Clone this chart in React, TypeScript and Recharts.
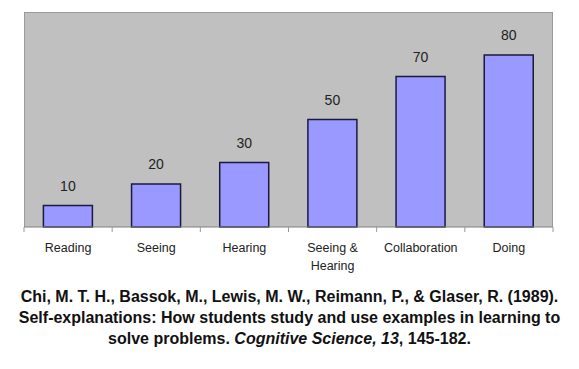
import React from 'react';
import { BarChart, Bar, XAxis, YAxis, CartesianGrid, LabelList } from 'recharts';

const categories = ['Reading', 'Seeing', 'Hearing', 'Seeing & Hearing', 'Collaboration', 'Doing'];
const retention = [10, 20, 30, 50, 70, 80];

const tickLines: Record<string, string[]> = {
    'Seeing & Hearing': ['Seeing &', 'Hearing']
};

const data = categories.map((name, i) => ({ name, value: retention[i] }));

const FONT = '"Liberation Sans", Arial, sans-serif';

const CategoryTick = (props: any) => {
    const { x, y, payload, index } = props;
    const half = payload.offset || 44;
    const lines = tickLines[payload.value] || [payload.value];
    return (
        <g>
            <line x1={x - half} y1={y - 8} x2={x - half} y2={y - 3} stroke="#999" />
            {index === categories.length - 1 && (
                <line x1={x + half} y1={y - 8} x2={x + half} y2={y - 3} stroke="#999" />
            )}
            <text x={x} y={y + 17} textAnchor="middle" fontSize={12.5} fill="#222" fontFamily={FONT}>
                {lines.map((l, i) => (
                    <tspan key={i} x={x} dy={i === 0 ? 0 : 18}>{l}</tspan>
                ))}
            </text>
        </g>
    );
};

export default function App() {
    return (
        <div style={{ position: 'absolute', left: 0, top: 0, width: 579, height: 369, background: '#fff' }}>
            <BarChart
                width={579}
                height={280}
                data={data}
                margin={{ top: 12, right: 26, left: 24, bottom: 0 }}
                barCategoryGap="22%"
            >
                {/* plot background with a thin gray frame on top, left and right */}
                <CartesianGrid
                    fill="#C0C0C0"
                    stroke="#9a9a9a"
                    horizontalPoints={[12.5]}
                    verticalPoints={[24.5, 552.5]}
                />
                <XAxis
                    dataKey="name"
                    interval={0}
                    tickLine={false}
                    axisLine={{ stroke: '#808080' }}
                    tick={<CategoryTick />}
                    height={53}
                />
                <YAxis hide domain={[0, 100]} />
                <Bar
                    dataKey="value"
                    fill="#9999FF"
                    stroke="#1a1a40"
                    strokeWidth={1.5}
                    isAnimationActive={false}
                >
                    <LabelList
                        dataKey="value"
                        position="top"
                        offset={15}
                        fill="#222"
                        fontSize={14}
                        fontFamily={FONT}
                    />
                </Bar>
            </BarChart>
            <div
                style={{
                    position: 'absolute',
                    left: 0,
                    top: 286,
                    width: 579,
                    textAlign: 'center',
                    fontFamily: FONT,
                    fontWeight: 'bold',
                    fontSize: 16,
                    lineHeight: '21px',
                    color: '#111',
                    whiteSpace: 'nowrap'
                }}
            >
                Chi, M. T. H., Bassok, M., Lewis, M. W., Reimann, P., &amp; Glaser, R. (1989).
                <br />
                Self-explanations: How students study and use examples in learning to
                <br />
                solve problems. <i>Cognitive Science, 13</i>, 145-182.
            </div>
        </div>
    );
}
